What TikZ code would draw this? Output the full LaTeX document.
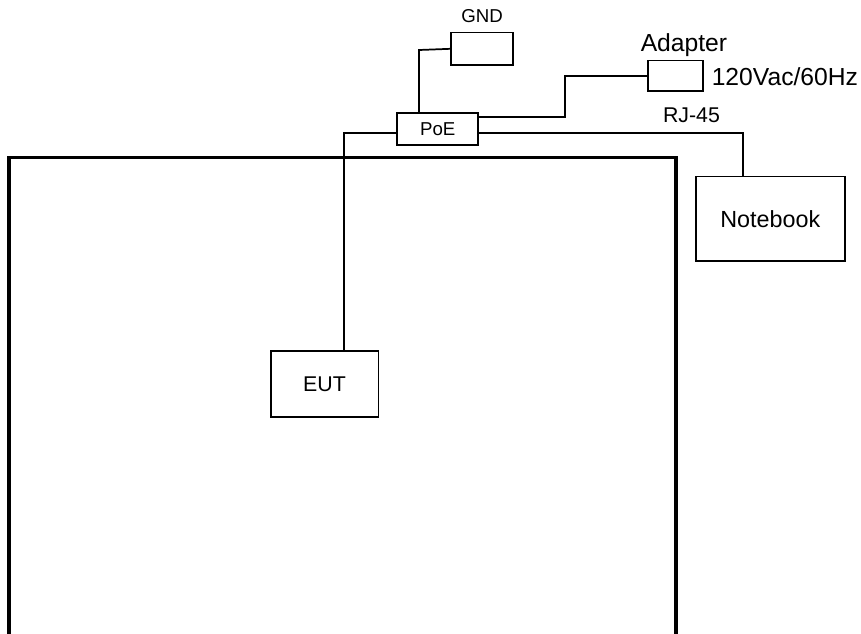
\documentclass[tikz,border=0pt]{standalone}
\usepackage{fontspec}
\setmainfont{Liberation Sans}
\usetikzlibrary{positioning}

\begin{document}
\begin{tikzpicture}[
    x=0.75pt, y=-0.75pt,
    box/.style={draw, line width=1.3pt, inner sep=0pt},
    wire/.style={line width=1.3pt},
    tag/.style={inner sep=0pt, font=\fontsize{14}{16}\selectfont},
    midtag/.style={inner sep=0pt, font=\fontsize{16}{18}\selectfont},
    bigtag/.style={inner sep=0pt, font=\fontsize{18.5}{20}\selectfont}
]
\useasboundingbox (0,0) rectangle (861,633);

% ----- Chamber -----
\draw[line width=2.6pt] (9,157.5) rectangle (676,635.5);

% ----- Boxes -----
\node[box, minimum width=46pt, minimum height=24.3pt] (GND) at (482,48.8) {};
\node[tag, above=6.4pt of GND] (GNDlabel) {GND};

\node[box, minimum width=41pt, minimum height=22.8pt] (Adapter) at (675.3,75.8) {};
\node[bigtag, above=2.4pt of Adapter, xshift=6.5pt] (Adapterlabel) {Adapter};
\node[bigtag, right=6pt of Adapter, yshift=-1pt] (mains) {120Vac/60Hz};

\node[box, tag, minimum width=60.7pt, minimum height=24.5pt] (PoE) at (437.8,129) {PoE};

\node[box, font=\fontsize{17.5}{19}\selectfont, minimum width=112pt, minimum height=63.5pt] (Notebook) at (770.3,218.7) {Notebook};

\node[box, midtag, minimum width=80.8pt, minimum height=50pt] (EUT) at (324.5,384) {EUT};

% ----- Connections -----
\coordinate (gndbend) at (419,50);
\draw[wire] (GND.west) -- (gndbend) -- (gndbend |- PoE.north);

\coordinate (adpbend) at (565.3,117.3);
\draw[wire] (Adapter.west) -| (adpbend) -- (adpbend -| PoE.east);

\coordinate (rjbend) at (743.3,132.7);
\draw[wire] (rjbend -| PoE.east) -- (rjbend) -- (rjbend |- Notebook.north);
\node[midtag] (RJ) at (691.5,115.5) {RJ-45};

\coordinate (eutbend) at (344.3,132.7);
\draw[wire] (eutbend -| PoE.west) -- (eutbend) -- (eutbend |- EUT.north);

\end{tikzpicture}
\end{document}
